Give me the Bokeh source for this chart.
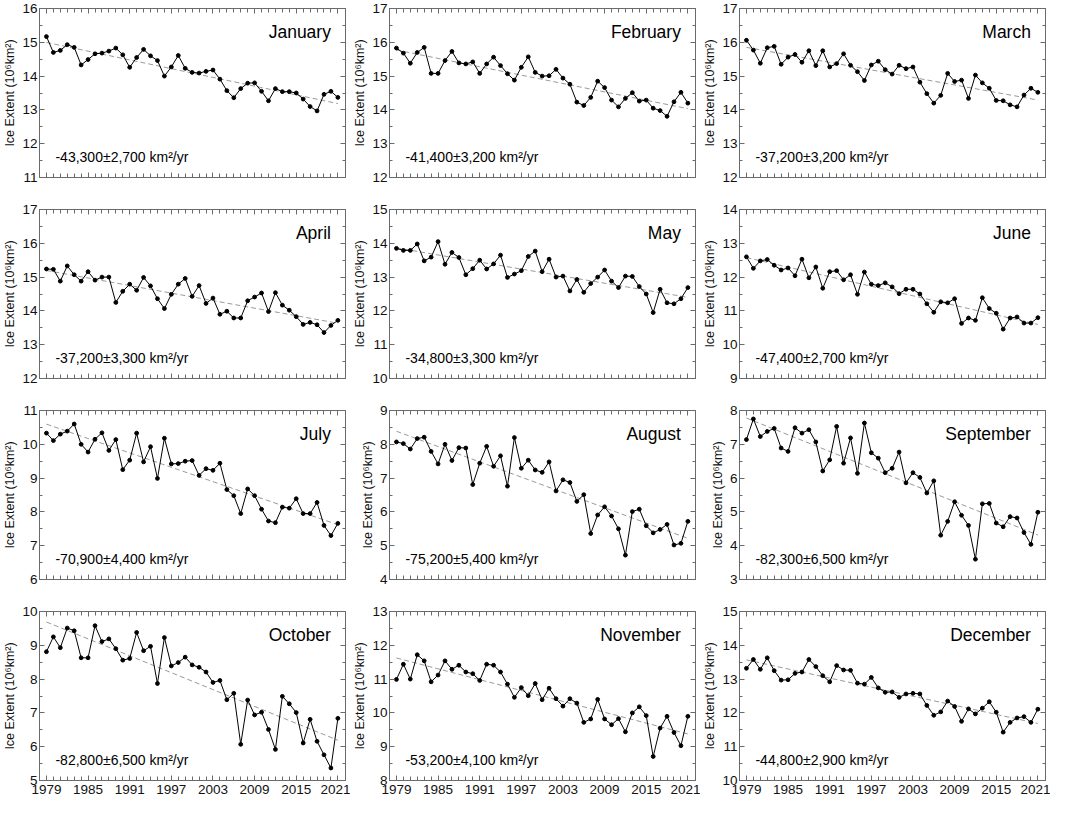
import numpy as np
from bokeh.plotting import figure
from bokeh.models import (Range1d, LinearAxis, FixedTicker, SingleIntervalTicker,
                          Label, CustomJSTickFormatter, ColumnDataSource)
from bokeh.layouts import gridplot
from bokeh.embed import file_html
from bokeh.resources import INLINE

years = list(range(1979, 2022))
months = ["January", "February", "March", "April", "May", "June",
          "July", "August", "September", "October", "November", "December"]

jan = [15.17, 14.70, 14.76, 14.93, 14.85, 14.33, 14.49, 14.66, 14.68, 14.74, 14.83,
       14.63, 14.26, 14.55, 14.79, 14.60, 14.46, 14.00, 14.27, 14.61, 14.23, 14.11,
       14.09, 14.14, 14.18, 13.91, 13.57, 13.36, 13.63, 13.79, 13.80, 13.55, 13.27,
       13.63, 13.54, 13.54, 13.50, 13.32, 13.10, 12.97, 13.46, 13.55, 13.37]
feb = [15.83, 15.68, 15.38, 15.70, 15.85, 15.08, 15.08, 15.46, 15.73, 15.39, 15.36,
       15.42, 15.08, 15.36, 15.56, 15.31, 15.07, 14.88, 15.26, 15.57, 15.11, 15.00,
       15.01, 15.20, 14.94, 14.76, 14.23, 14.13, 14.37, 14.85, 14.66, 14.29, 14.09,
       14.34, 14.51, 14.26, 14.29, 14.05, 13.98, 13.81, 14.24, 14.52, 14.20]
mar = [16.06, 15.77, 15.38, 15.84, 15.88, 15.35, 15.56, 15.64, 15.41, 15.75, 15.31,
       15.75, 15.27, 15.37, 15.66, 15.32, 15.13, 14.87, 15.33, 15.44, 15.19, 15.06,
       15.32, 15.22, 15.27, 14.82, 14.48, 14.20, 14.43, 15.08, 14.84, 14.88, 14.34,
       15.03, 14.80, 14.64, 14.28, 14.27, 14.15, 14.09, 14.44, 14.64, 14.52]
apr = [15.24, 15.23, 14.88, 15.33, 15.07, 14.88, 15.16, 14.91, 15.00, 15.00, 14.25,
       14.58, 14.79, 14.61, 14.99, 14.74, 14.36, 14.07, 14.49, 14.79, 14.96, 14.43,
       14.75, 14.22, 14.38, 13.90, 13.99, 13.79, 13.79, 14.30, 14.41, 14.53, 13.98,
       14.54, 14.17, 14.02, 13.83, 13.60, 13.66, 13.59, 13.36, 13.57, 13.72]
may = [13.85, 13.79, 13.79, 13.98, 13.48, 13.59, 14.05, 13.38, 13.73, 13.58, 13.07,
       13.25, 13.50, 13.24, 13.39, 13.65, 12.99, 13.09, 13.19, 13.61, 13.77, 13.16,
       13.53, 13.00, 13.03, 12.59, 12.93, 12.55, 12.81, 13.00, 13.21, 12.88, 12.69,
       13.03, 13.02, 12.72, 12.50, 11.95, 12.64, 12.24, 12.21, 12.36, 12.69]
jun = [12.60, 12.26, 12.48, 12.52, 12.35, 12.21, 12.27, 12.04, 12.53, 11.98, 12.30,
       11.67, 12.16, 12.19, 11.92, 12.07, 11.49, 12.15, 11.79, 11.75, 11.83, 11.71,
       11.51, 11.64, 11.64, 11.50, 11.21, 10.96, 11.27, 11.24, 11.36, 10.63, 10.79,
       10.72, 11.39, 11.07, 10.93, 10.46, 10.79, 10.82, 10.64, 10.64, 10.80]
jul = [10.33, 10.11, 10.30, 10.39, 10.60, 10.00, 9.77, 10.15, 10.34, 9.82, 10.14,
       9.25, 9.53, 10.33, 9.48, 9.93, 8.99, 10.18, 9.42, 9.43, 9.50, 9.52,
       9.08, 9.28, 9.23, 9.44, 8.66, 8.48, 7.95, 8.68, 8.48, 8.08, 7.73,
       7.68, 8.14, 8.11, 8.39, 7.95, 7.95, 8.28, 7.60, 7.30, 7.66]
aug = [8.07, 8.02, 7.86, 8.17, 8.21, 7.79, 7.42, 8.00, 7.52, 7.90, 7.89,
       6.81, 7.44, 7.94, 7.35, 7.66, 6.76, 8.20, 7.29, 7.53, 7.24, 7.17,
       7.48, 6.62, 6.95, 6.87, 6.31, 6.51, 5.36, 5.91, 6.15, 5.88, 5.50,
       4.72, 6.01, 6.08, 5.59, 5.38, 5.48, 5.63, 5.02, 5.07, 5.72]
sep = [7.14, 7.75, 7.23, 7.38, 7.47, 6.89, 6.79, 7.49, 7.33, 7.43, 7.07,
       6.21, 6.54, 7.53, 6.44, 7.19, 6.14, 7.63, 6.75, 6.59, 6.16, 6.29,
       6.77, 5.86, 6.16, 6.02, 5.56, 5.92, 4.31, 4.72, 5.30, 4.90, 4.60,
       3.60, 5.24, 5.25, 4.67, 4.56, 4.86, 4.82, 4.39, 4.04, 4.99]
oct_ = [8.81, 9.25, 8.93, 9.51, 9.43, 8.63, 8.63, 9.58, 9.11, 9.19, 8.90,
        8.56, 8.61, 9.38, 8.84, 8.97, 7.87, 9.23, 8.39, 8.49, 8.65, 8.42,
        8.35, 8.21, 7.90, 7.96, 7.39, 7.58, 6.07, 7.38, 6.94, 7.02, 6.51,
        5.92, 7.49, 7.27, 7.01, 6.11, 6.81, 6.16, 5.76, 5.37, 6.84]
nov = [10.99, 11.44, 11.00, 11.72, 11.54, 10.92, 11.12, 11.54, 11.29, 11.41, 11.21,
       11.16, 10.96, 11.44, 11.41, 11.21, 10.85, 10.46, 10.75, 10.51, 10.87, 10.39,
       10.73, 10.42, 10.20, 10.42, 10.29, 9.72, 9.82, 10.40, 9.82, 9.65, 9.83,
       9.44, 10.00, 10.18, 9.92, 8.71, 9.55, 9.90, 9.42, 9.03, 9.90]
dec = [13.32, 13.58, 13.29, 13.63, 13.25, 12.97, 12.98, 13.17, 13.21, 13.58, 13.37,
       13.10, 12.92, 13.40, 13.27, 13.26, 12.88, 12.85, 13.05, 12.74, 12.61, 12.62,
       12.46, 12.56, 12.58, 12.56, 12.22, 11.93, 12.03, 12.35, 12.19, 11.75, 12.12,
       11.97, 12.14, 12.33, 12.02, 11.43, 11.72, 11.85, 11.89, 11.72, 12.11]

series = [jan, feb, mar, apr, may, jun, jul, aug, sep, oct_, nov, dec]

trend_labels = ["-43,300±2,700 km²/yr", "-41,400±3,200 km²/yr", "-37,200±3,200 km²/yr",
                "-37,200±3,300 km²/yr", "-34,800±3,300 km²/yr", "-47,400±2,700 km²/yr",
                "-70,900±4,400 km²/yr", "-75,200±5,400 km²/yr", "-82,300±6,500 km²/yr",
                "-82,800±6,500 km²/yr", "-53,200±4,100 km²/yr", "-44,800±2,900 km²/yr"]

y_lo = [11, 12, 12, 12, 10, 9, 6, 4, 3, 5, 8, 10]
y_hi = [16, 17, 17, 17, 15, 14, 11, 9, 8, 10, 13, 15]

x_tick_years = [1979, 1985, 1991, 1997, 2003, 2009, 2015, 2021]

FONT = "Liberation Sans"
FRAME = "#6a6a6a"


def style_axis(ax, show_labels, minor_in=3):
    ax.axis_line_color = FRAME
    ax.major_tick_line_color = FRAME
    ax.minor_tick_line_color = FRAME
    ax.major_tick_in = 5
    ax.major_tick_out = 0
    ax.minor_tick_in = minor_in
    ax.minor_tick_out = 0
    if show_labels:
        ax.major_label_text_font = FONT
        ax.major_label_text_font_size = "13.5px"
        ax.major_label_text_color = "#111111"
        ax.major_label_standoff = 3
    else:
        ax.formatter = CustomJSTickFormatter(code="return ''")
        ax.major_label_text_font_size = "0px"
        ax.major_label_standoff = 0


figs = []
for i in range(12):
    last_row = i >= 9
    p = figure(width=350, height=197 if last_row else 201,
               x_range=Range1d(1978.0, 2022.1), y_range=Range1d(y_lo[i], y_hi[i]),
               output_backend="svg", toolbar_location=None,
               x_axis_location=None, y_axis_location=None,
               min_border_left=36, min_border_right=5, min_border_top=8,
               min_border_bottom=20 if last_row else 24)
    p.xgrid.grid_line_color = None
    p.ygrid.grid_line_color = None
    p.outline_line_color = FRAME
    p.background_fill_color = "white"
    p.border_fill_color = "white"

    for loc in ("below", "above"):
        ax = LinearAxis(ticker=FixedTicker(ticks=x_tick_years, minor_ticks=years))
        style_axis(ax, loc == "below" and last_row, minor_in=4)
        if loc == "below" and last_row:
            ax.major_label_standoff = 4
        p.add_layout(ax, loc)
    for loc in ("left", "right"):
        ax = LinearAxis(ticker=SingleIntervalTicker(interval=1, num_minor_ticks=2))
        style_axis(ax, loc == "left")
        if loc == "left":
            ax.axis_label = "Ice Extent (10⁶km²)"
            ax.axis_label_text_font = FONT
            ax.axis_label_text_font_size = "12.5px"
            ax.axis_label_text_font_style = "normal"
            ax.axis_label_text_color = "#111111"
            ax.axis_label_standoff = 2
            ax.major_label_standoff = 2
        p.add_layout(ax, loc)

    vals = series[i]
    coef = np.polyfit(years, vals, 1)
    ends = [years[0], years[-1]]
    p.line(ends, list(np.polyval(coef, ends)), line_color="#9a9a9a",
           line_dash="5 3", line_width=1)

    src = ColumnDataSource(dict(year=years, ext=vals))
    p.line("year", "ext", source=src, line_color="black", line_width=1.0)
    p.scatter("year", "ext", source=src, size=3.8, color="black")

    p.add_layout(Label(x=2020.0, y=y_hi[i] - 0.69, text=months[i],
                       text_align="right", text_baseline="alphabetic",
                       text_font=FONT, text_font_size="17.5px", text_color="black"))
    p.add_layout(Label(x=1980.3, y=y_lo[i] + 0.6, text=trend_labels[i],
                       text_align="left", text_baseline="alphabetic",
                       text_font=FONT, text_font_size="14px", text_color="black"))
    figs.append(p)

grid = gridplot([figs[0:3], figs[3:6], figs[6:9], figs[9:12]], toolbar_location=None)

open("out.html", "w").write(file_html(grid, INLINE))
